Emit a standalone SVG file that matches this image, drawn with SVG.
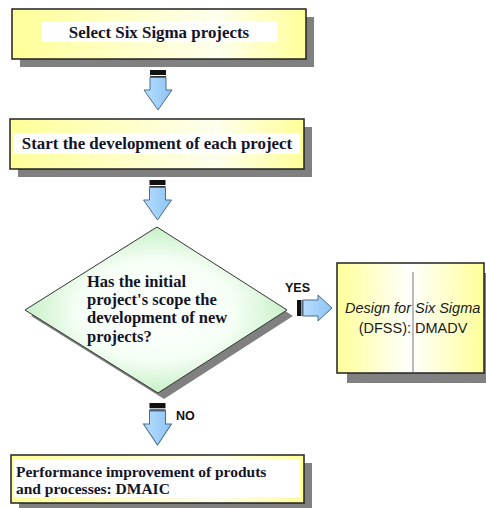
<svg xmlns="http://www.w3.org/2000/svg" width="486" height="508" viewBox="0 0 486 508">
<defs>
<linearGradient id="yb" x1="0" y1="0" x2="1" y2="0">
<stop offset="0" stop-color="#FFFF99"/>
<stop offset="0.7" stop-color="#FFFFEE"/>
<stop offset="1" stop-color="#FFFF99"/>
</linearGradient>
<linearGradient id="yc" x1="0" y1="0" x2="1" y2="0">
<stop offset="0" stop-color="#FFFF99"/>
<stop offset="0.5" stop-color="#FFFFFF"/>
<stop offset="1" stop-color="#FFFF99"/>
</linearGradient>
<radialGradient id="gd" cx="0.5" cy="0.5" r="0.5">
<stop offset="0" stop-color="#FFFFFF"/>
<stop offset="0.6" stop-color="#F6FFF6"/>
<stop offset="1" stop-color="#C8F0C8"/>
</radialGradient>
<linearGradient id="bl" x1="0" y1="0" x2="1" y2="0">
<stop offset="0" stop-color="#B8DDFF"/>
<stop offset="1" stop-color="#8CC4F4"/>
</linearGradient>
<g id="arrowDown">
<rect x="6" y="0" width="16" height="5" fill="#111"/>
<rect x="6" y="6" width="16" height="1.5" fill="#333"/>
<path d="M6 7.5 H22 V20 H28 L14 40 L0 20 H6 Z" fill="url(#bl)" stroke="#4A6C8C" stroke-width="1"/>
</g>
</defs>
<style>
.box{stroke:#222;stroke-width:1.5}
.shadow{fill:#808080}
.serif{font-family:'Liberation Serif','DejaVu Serif','Times New Roman',Times,serif;font-weight:bold;font-size:16.5px;fill:#141428}
.big{font-size:16.9px}
.small{font-size:15.5px}
.sans{font-family:'Liberation Sans',Arial,sans-serif;font-size:14.5px;fill:#1a1a1a}
.lbl{font-family:'Liberation Sans',Arial,sans-serif;font-weight:bold;font-size:12.5px;fill:#111}
</style>
<rect width="486" height="508" fill="#fff"/>

<g id="select">
<rect class="shadow" x="20" y="17" width="294" height="50"/>
<rect class="box" x="12" y="9" width="294" height="50" fill="url(#yb)"/>
<rect x="42" y="22" width="235" height="20" fill="#fff"/>
<text class="serif big" x="159" y="37.5" text-anchor="middle">Select Six Sigma projects</text>
</g>

<g id="start">
<rect class="shadow" x="18" y="127" width="294" height="50"/>
<rect class="box" x="10" y="119" width="294" height="50" fill="url(#yb)"/>
<rect x="13" y="133" width="287" height="21" fill="#fff"/>
<text class="serif big" x="157" y="148.5" text-anchor="middle">Start the development of each project</text>
</g>

<g id="decision">
<polygon class="shadow" points="163,233 293,316 164,399 31,316"/>
<polygon points="157,227 287,310 158,393 25,310" fill="url(#gd)" stroke="#333" stroke-width="1"/>
<text class="serif" x="87" y="287">Has the initial</text>
<text class="serif" x="87" y="305">project's scope the</text>
<text class="serif" x="87" y="323">development of new</text>
<text class="serif" x="87" y="342">projects?</text>
</g>

<g id="dfss">
<rect class="shadow" x="347" y="273" width="147" height="110"/>
<rect class="box" x="337" y="263" width="147" height="110" fill="url(#yc)"/>
<line x1="413" y1="272" x2="413" y2="373" stroke="#777" stroke-width="1"/>
<text class="sans" x="411" y="313" text-anchor="end" font-style="italic">Design for</text>
<text class="sans" x="415" y="313" font-style="italic">Six Sigma</text>
<text class="sans" x="411" y="333" text-anchor="end">(DFSS):</text>
<text class="sans" x="415" y="333">DMADV</text>
</g>

<g id="dmaic">
<rect class="shadow" x="19" y="463" width="293" height="45"/>
<rect class="box" x="11" y="455" width="293" height="48" fill="url(#yb)"/>
<rect x="14" y="460" width="286" height="37" fill="#fff"/>
<text class="serif small" x="16" y="477">Performance improvement of produts</text>
<text class="serif small" x="16" y="494">and processes: DMAIC</text>
</g>

<g id="connectors">
<use href="#arrowDown" x="144" y="70"/>
<use href="#arrowDown" x="143.5" y="180"/>
<use href="#arrowDown" transform="translate(143.5,403) scale(1,1.05)"/>
<g id="yesArrow">
<rect x="297" y="300" width="4" height="16" fill="#111"/>
<rect x="301.5" y="300" width="1.2" height="16" fill="#333"/>
<path d="M303 300 H318 V295 L332 308 L318 321 V316 H303 Z" fill="url(#bl)" stroke="#4A6C8C" stroke-width="1"/>
</g>
<text class="lbl" x="285" y="292">YES</text>
<text class="lbl" x="176" y="420">NO</text>
</g>
</svg>
